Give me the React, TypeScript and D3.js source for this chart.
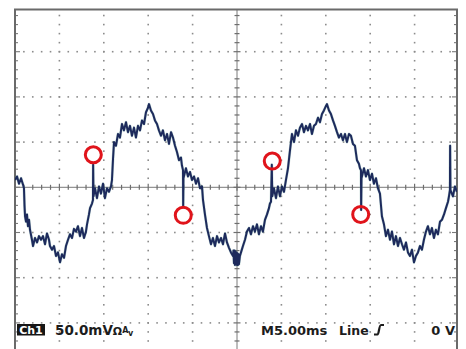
import React from 'react';
import * as d3 from 'd3';

// Trace samples: time (ms, 0 = left edge) and voltage (mV)
const traceTimeMs = [
  0, 0.23, 0.45, 0.68, 0.9, 1.01, 1.07, 1.13, 1.24, 1.35, 1.46, 1.58, 1.69, 1.91, 2.03, 2.25, 2.48, 2.7, 2.93, 3.15,
  3.38, 3.6, 3.83, 3.94, 4.17, 4.39, 4.62, 4.84, 5.07, 5.29, 5.52, 5.74, 5.97, 6.19, 6.42, 6.64, 6.87, 7.09, 7.32, 7.54,
  7.77, 7.99, 8.11, 8.33, 8.45, 8.67, 8.78, 8.8, 8.84, 9.01, 9.23, 9.46, 9.68, 9.91, 10.13, 10.36, 10.58, 10.81, 10.92, 11.03,
  11.15, 11.37, 11.6, 11.82, 12.05, 12.27, 12.5, 12.72, 12.95, 13.17, 13.4, 13.62, 13.85, 14.08, 14.3, 14.53, 14.75, 14.98, 15.09, 15.31,
  15.54, 15.76, 15.99, 16.21, 16.44, 16.66, 16.89, 17.12, 17.34, 17.57, 17.79, 18.02, 18.24, 18.47, 18.69, 18.8, 18.92, 18.94, 18.97, 19.25,
  19.48, 19.71, 19.93, 20.16, 20.38, 20.61, 20.83, 21.06, 21.17, 21.39, 21.62, 21.84, 22.07, 22.29, 22.52, 22.75, 22.97, 23.2, 23.42, 23.65,
  23.87, 24.1, 24.32, 24.55, 24.6, 24.66, 24.72, 24.77, 24.83, 24.88, 24.94, 25.0, 25.05, 25.11, 25.17, 25.22, 25.33, 25.45,
  25.67, 25.9, 26.12, 26.35, 26.57, 26.8, 27.02, 27.25,
  27.47, 27.7, 27.92, 28.15, 28.38, 28.6, 28.71, 28.83, 28.92, 28.97, 29.16, 29.39, 29.61, 29.84, 30.06, 30.29, 30.51, 30.74, 30.97, 31.19,
  31.42, 31.64, 31.87, 32.09, 32.32, 32.54, 32.77, 32.99, 33.22, 33.44, 33.67, 33.89, 34.12, 34.34, 34.57, 34.79, 35.02, 35.13, 35.36, 35.58,
  35.81, 36.03, 36.26, 36.48, 36.71, 36.93, 37.16, 37.38, 37.61, 37.83, 38.06, 38.28, 38.51, 38.73, 38.85, 38.96, 38.98, 39.02, 39.3, 39.52,
  39.75, 39.97, 40.2, 40.42, 40.65, 40.87, 41.1, 41.32, 41.55, 41.77, 42.0, 42.23, 42.45, 42.68, 42.9, 43.13, 43.35, 43.58, 43.8, 44.03,
  44.25, 44.48, 44.7, 44.93, 45.15, 45.38, 45.6, 45.83, 46.05, 46.28, 46.5, 46.73, 46.95, 47.18, 47.4, 47.63, 47.86, 48.08, 48.31, 48.53,
  48.76, 48.87, 48.98, 49.0, 49.04, 49.32, 49.54, 49.77,
];
const traceMilliVolts = [
  8, 12, 4, 10, 3, -1, -20, -32, -38, -30, -43, -36, -47, -58, -65, -56, -61, -54, -58, -54,
  -63, -51, -58, -65, -69, -65, -76, -72, -83, -74, -78, -65, -58, -52, -56, -46, -49, -43, -54, -45,
  -56, -49, -41, -30, -23, -18, -14, 25, -10, -1, -12, 1, -7, 4, -12, -1, -5, 1, 8, 30,
  50, 46, 59, 55, 70, 63, 72, 61, 68, 57, 66, 55, 68, 63, 74, 70, 83, 88, 92, 85,
  81, 74, 70, 63, 57, 63, 52, 59, 48, 61, 55, 46, 39, 30, 33, 24, 19, -22, 10, 21,
  12, 17, 8, 12, 4, 10, -1, 1, -14, -30, -45, -54, -63, -56, -65, -54, -61, -56, -63, -51,
  -61, -67, -72, -76, -70, -84, -70, -86, -71, -85, -72, -86, -73, -86, -74, -85, -76, -72,
  -65, -58, -49, -45, -52, -43, -49, -41,
  -52, -43, -49, -36, -30, -23, -18, -16, 25, -10, -1, -12, 1, -10, 1, -5, 8, 21, 41, 59,
  50, 63, 57, 66, 70, 61, 68, 63, 70, 59, 68, 70, 77, 72, 81, 85, 90, 92, 85, 81,
  74, 68, 61, 55, 59, 52, 59, 50, 59, 57, 48, 46, 30, 26, 21, 19, -25, 10, 21, 12,
  19, 8, 15, 4, 10, -1, -7, -32, -41, -54, -47, -58, -49, -63, -54, -65, -56, -63, -69, -61,
  -72, -76, -69, -83, -76, -72, -65, -69, -58, -49, -43, -52, -45, -56, -47, -52, -38, -36, -30, -23,
  -16, -10, -3, 46, -3, -10, 1, -5,
];

// Red annotation circles (glitches)
const markerTimeMs = [8.82, 18.95, 28.97, 38.93];
const markerMilliVolts = [36, -31, 29, -30];

// Readout texts
const channelLabel = 'Ch1';
const voltsPerDiv = '50.0mV';
const timeBase = 'M5.00ms';
const triggerSource = 'Line';
const triggerLevel = '0 V';

const W = 466;
const H = 349;
const FRAME_LEFT = 15;
const FRAME_RIGHT = 457;
const FRAME_TOP = 9.5;

export default function App() {
  const x = d3.scaleLinear().domain([0, 50]).range([15, 459]);
  const y = d3.scaleLinear().domain([-200, 200]).range([368.1, 6.5]);

  const gridCol = '#8c8c8c';
  const divT = d3.range(5, 50, 5).filter((t) => t !== 25);
  const divV = [-150, -100, -50, 50, 100, 150];
  const minorT = d3.range(1, 50, 1);
  const minorV = d3.range(-190, 200, 10).filter((v) => y(v) > FRAME_TOP + 2 && y(v) < H);

  const dots: JSX.Element[] = [];
  divT.forEach((t) => {
    minorV.forEach((v) => {
      if (v === 0) return;
      dots.push(<rect key={`dv${t}_${v}`} x={x(t) - 0.8} y={y(v) - 0.8} width={1.6} height={1.6} fill={gridCol} />);
    });
  });
  divV.forEach((v) => {
    minorT.forEach((t) => {
      if (t === 25) return;
      dots.push(<rect key={`dh${t}_${v}`} x={x(t) - 0.8} y={y(v) - 0.8} width={1.6} height={1.6} fill={gridCol} />);
    });
  });

  const line = d3
    .line<number>()
    .x((_, i) => x(traceTimeMs[i]))
    .y((d) => y(d))
    .curve(d3.curveLinear);
  const tracePath = line(traceMilliVolts) || '';

  const textFont = "'DejaVu Sans', sans-serif";

  return (
    <svg width={W} height={H} style={{ position: 'absolute', left: 0, top: 0, background: '#fff' }}>
      <rect x={0} y={0} width={W} height={H} fill="#fff" />
      <defs>
        <clipPath id="scr">
          <rect x={FRAME_LEFT} y={FRAME_TOP} width={FRAME_RIGHT - FRAME_LEFT} height={H - FRAME_TOP} />
        </clipPath>
      </defs>
      {dots}
      {/* center cross-hair with minor ticks */}
      <line x1={FRAME_LEFT} x2={FRAME_RIGHT} y1={y(0)} y2={y(0)} stroke="#7a7a7a" strokeWidth={1} />
      <line x1={x(25)} x2={x(25)} y1={FRAME_TOP} y2={H} stroke="#7a7a7a" strokeWidth={1} />
      {minorT.map((t) => (
        <line key={`ct${t}`} x1={x(t)} x2={x(t)} y1={y(0) - (t % 5 === 0 ? 3.5 : 2.5)} y2={y(0) + (t % 5 === 0 ? 3.5 : 2.5)} stroke="#6e6e6e" strokeWidth={1.2} />
      ))}
      {minorV.map((v) => (
        <line key={`cv${v}`} x1={x(25) - (v % 50 === 0 ? 3.5 : 2.5)} x2={x(25) + (v % 50 === 0 ? 3.5 : 2.5)} y1={y(v)} y2={y(v)} stroke="#6e6e6e" strokeWidth={1.2} />
      ))}
      {/* border ticks */}
      {minorV.map((v) => (
        <g key={`bt${v}`}>
          <line x1={FRAME_LEFT} x2={FRAME_LEFT + (v % 50 === 0 ? 5 : 3)} y1={y(v)} y2={y(v)} stroke="#7a7a7a" strokeWidth={1.1} />
          <line x1={FRAME_RIGHT} x2={FRAME_RIGHT - (v % 50 === 0 ? 5 : 3)} y1={y(v)} y2={y(v)} stroke="#7a7a7a" strokeWidth={1.1} />
        </g>
      ))}
      {/* screen border */}
      <path
        d={`M${FRAME_LEFT},${H} V${FRAME_TOP} H${FRAME_RIGHT} V${H}`}
        fill="none"
        stroke="#6a6a6a"
        strokeWidth={2}
      />
      {/* waveform */}
      <g clipPath="url(#scr)">
        <path d={tracePath} fill="none" stroke="#4f8f8a" strokeWidth={2.8} strokeLinejoin="round" opacity={0.35} />
        <path d={tracePath} fill="none" stroke="#1d2a5c" strokeWidth={2} strokeLinejoin="round" />
      </g>
      {/* annotation circles */}
      {markerTimeMs.map((t, i) => (
        <circle key={`m${i}`} cx={x(t)} cy={y(markerMilliVolts[i])} r={8} fill="none" stroke="#e0141b" strokeWidth={3} />
      ))}
      {/* readout */}
      <rect x={17} y={324} width={28} height={11.5} fill="#161616" />
      <text x={31} y={333.8} textAnchor="middle" fill="#fff" fontFamily={textFont} fontWeight="bold" fontSize={11}>
        {channelLabel}
      </text>
      <text x={55} y={335} fill="#1c1c1c" fontFamily={textFont} fontWeight="bold" fontSize={13.5}>
        {voltsPerDiv}
        <tspan fontSize={11}>Ω</tspan>
        <tspan fontSize={8} dy={-2}>A</tspan>
        <tspan fontSize={8} dy={3}>v</tspan>
      </text>
      <text x={261} y={335} fill="#1c1c1c" fontFamily={textFont} fontWeight="bold" fontSize={13}>
        {timeBase}
      </text>
      <text x={339} y={335} fill="#1c1c1c" fontFamily={textFont} fontWeight="bold" fontSize={12.5}>
        {triggerSource}
      </text>
      <path d="M374,334.5 L377.5,334.5 C379,334.5 379,325 381,325 L384,325" fill="none" stroke="#1c1c1c" strokeWidth={2.2} />
      <text x={455} y={335} textAnchor="end" fill="#1c1c1c" fontFamily={textFont} fontWeight="bold" fontSize={13}>
        {triggerLevel}
      </text>
    </svg>
  );
}
